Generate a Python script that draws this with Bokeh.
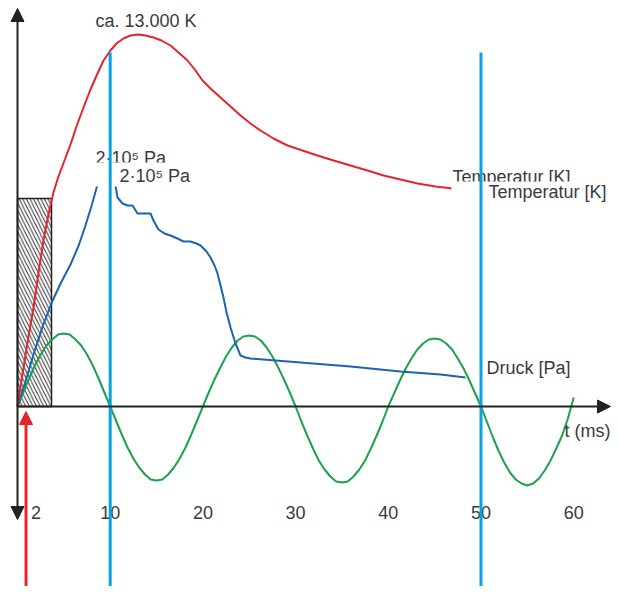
from bokeh.plotting import figure
from bokeh.models import Range1d, Arrow, NormalHead
from bokeh.core.properties import value
from bokeh.embed import file_html
from bokeh.resources import INLINE

# ---------------- data (t in ms, y in arbitrary units above the time axis) -------------
temp_t = [0, 0.43, 0.86, 1.29, 1.73, 2.27, 2.80, 3.34, 3.88, 4.42, 5.07, 5.72, 6.36, 7.12,
          7.87, 8.63, 9.28, 10.03, 10.68, 11.43, 12.19, 13.05, 13.81, 14.67, 15.53, 16.50,
          17.37, 18.34, 19.20, 19.96, 20.82, 21.90, 22.98, 24.06, 25.13, 26.21, 27.62, 29.13,
          30.74, 32.36, 34.09, 35.92, 37.76, 39.48, 41.32, 43.15, 45.09, 46.93, 48.87]
temp_y = [0, 26, 51, 76, 99, 134, 166, 192, 214, 230, 246, 262, 280, 299,
          317, 333, 346, 356, 363, 368, 371, 372, 371, 369, 366, 361,
          354, 346, 336, 326, 318, 309, 300, 291, 283, 276, 268, 261,
          256, 251, 246, 241, 236, 231, 227, 223, 220, 218, 216]

press_t = [0, 0.86, 1.76, 2.75, 3.74, 4.70, 5.72, 6.60, 7.30, 8.00, 8.63, 8.95, 9.49, 10.03,
           10.36, 10.57, 10.79, 11.33, 11.87, 12.41, 12.95, 13.70, 14.35, 14.67, 15.21, 15.86,
           16.50, 17.26, 17.91, 18.66, 19.31, 19.74, 20.39, 20.82, 21.25, 21.58, 21.90, 22.22,
           22.55, 22.98, 23.52, 24.06, 24.60, 25.13, 30.53, 35.92, 41.32, 45.63, 48.33]
press_y = [0, 25, 53, 81, 105, 124, 142, 161, 180, 201, 222, 232, 238, 237,
           230, 221, 209, 203, 201, 201, 193, 193, 193, 186, 177, 173,
           171, 168, 165, 165, 163, 161, 155, 149, 141, 133, 121, 109,
           94, 79, 63, 51, 49, 48, 44, 40, 35, 32, 29]

osc_t = [0, 0.625, 1.25, 1.875, 2.5, 3.125, 3.75, 4.375, 5, 5.625, 6.25, 6.875, 7.5, 8.125,
         8.75, 9.375, 10, 10.625, 11.25, 11.875, 12.5, 13.125, 13.75, 14.375, 15, 15.625,
         16.25, 16.875, 17.5, 18.125, 18.75, 19.375, 20, 20.625, 21.25, 21.875, 22.5, 23.125,
         23.75, 24.375, 25, 25.625, 26.25, 26.875, 27.5, 28.125, 28.75, 29.375, 30, 30.625,
         31.25, 31.875, 32.5, 33.125, 33.75, 34.375, 35, 35.625, 36.25, 36.875, 37.5, 38.125,
         38.75, 39.375, 40, 40.625, 41.25, 41.875, 42.5, 43.125, 43.75, 44.375, 45, 45.625,
         46.25, 46.875, 47.5, 48.125, 48.75, 49.375, 50, 50.625, 51.25, 51.875, 52.5, 53.125,
         53.75, 54.375, 55, 55.625, 56.25, 56.875, 57.5, 58.125, 58.75, 59.375, 60]
osc_y = [0, 14, 28, 41, 52, 61, 67, 72, 73, 72, 67, 61, 52, 41,
         28, 14, 0, -14, -28, -41, -52, -61, -68, -73, -74, -73,
         -68, -61, -52, -41, -28, -14, 0, 14, 27, 39, 50, 59,
         66, 70, 71, 70, 66, 59, 50, 39, 27, 14, 0, -15,
         -29, -42, -54, -63, -70, -75, -76, -75, -70, -63, -54, -42,
         -29, -15, 0, 13, 26, 38, 48, 57, 63, 67, 68, 67,
         63, 57, 48, 38, 26, 13, 0, -15, -30, -44, -56, -66,
         -73, -77, -79, -77, -72, -64, -54, -42, -29, -12, 9]

hatch_t = [0, 3.67]          # hatched interval (ms)
hatch_top = 208              # height of hatched box
event_t = [10, 50]           # blue marker lines (ms)
event_top = 354
ignition_t = 0.92            # red arrow (ms)

tick_vals = [2, 10, 20, 30, 40, 50, 60]
tick_labels = ["2", "10", "20", "30", "40", "50", "60"]

# ---------------- figure -------------------------------------------------------------
W, H = 612, 586
PX = 9.27                       # pixels per ms
x0 = -17 / PX
Y_TOP = 406
p = figure(width=W, height=H, x_range=Range1d(x0, x0 + W / PX),
           y_range=Range1d(Y_TOP - H, Y_TOP), output_backend="svg",
           toolbar_location=None, min_border=0,
           x_axis_location=None, y_axis_location=None)
p.grid.visible = False
p.outline_line_color = None
p.background_fill_color = "white"

FONT = value("Liberation Sans")
TXT = "#3a3a3a"
FS = "18px"
DY = 6.5   # baseline correction for text placement

# hatched box
p.quad(left=[hatch_t[0]], right=[hatch_t[1]], bottom=[0], top=[hatch_top],
       fill_alpha=0, hatch_pattern="\\", hatch_scale=7.2, hatch_weight=1,
       hatch_color="#333333", line_color="#222222", line_width=1.5)

# curves
p.line(osc_t, osc_y, line_color="#1ba34c", line_width=2)
p.line(press_t, press_y, line_color="#1b64b0", line_width=2)
p.line(temp_t, temp_y, line_color="#e5242b", line_width=2)

# labels
p.text(x=[8.41], y=[379 + DY], text=["ca. 13.000 K"], text_font=FONT, text_font_size=FS,
       text_color=TXT, text_baseline="alphabetic")
p.text(x=[8.41, 46.93], y=[242 + DY, 223.5 + DY], text=["2·10⁵ Pa", "Temperatur [K]"],
       text_font=FONT, text_font_size=FS, text_color=TXT, text_baseline="alphabetic")
# white label boxes of the repeated labels (they hide what lies behind them)
p.rect(x=[13.54, 55.34], y=[232, 214], width=[99, 158], height=[24, 22],
       width_units="screen", height_units="screen", fill_color="white", line_color=None)
p.text(x=[11.0, 50.81], y=[224 + DY, 208 + DY], text=["2·10⁵ Pa", "Temperatur [K]"],
       text_font=FONT, text_font_size=FS, text_color=TXT, text_baseline="alphabetic")
p.text(x=[50.59], y=[32 + DY], text=["Druck [Pa]"], text_font=FONT, text_font_size=FS,
       text_color=TXT, text_baseline="alphabetic")
p.text(x=[59.0], y=[-31 + DY], text=["t (ms)"], text_font=FONT, text_font_size=FS,
       text_color=TXT, text_baseline="alphabetic")
p.text(x=tick_vals, y=[-112 + DY] * len(tick_vals), text=tick_labels, text_font=FONT,
       text_font_size=FS, text_color=TXT, text_baseline="alphabetic", text_align="center")

# blue event lines
p.segment(x0=event_t, y0=[Y_TOP - H] * 2, x1=event_t, y1=[event_top] * 2,
          line_color="#0aa3e2", line_width=3)

# axes arrows
AX = "#222222"
p.add_layout(Arrow(x_start=0, y_start=-113, x_end=0, y_end=398,
                   start=NormalHead(size=13, fill_color=AX, line_color=AX),
                   end=NormalHead(size=13, fill_color=AX, line_color=AX),
                   line_color=AX, line_width=2))
p.add_layout(Arrow(x_start=0, y_start=0, x_end=593 / PX, y_end=0,
                   end=NormalHead(size=13, fill_color=AX, line_color=AX),
                   line_color=AX, line_width=2))
# ignition arrow
p.add_layout(Arrow(x_start=ignition_t, y_start=Y_TOP - H, x_end=ignition_t, y_end=-5,
                   end=NormalHead(size=13, fill_color="#e5242b", line_color="#e5242b"),
                   line_color="#e5242b", line_width=3))

open("out.html", "w").write(file_html(p, INLINE))
